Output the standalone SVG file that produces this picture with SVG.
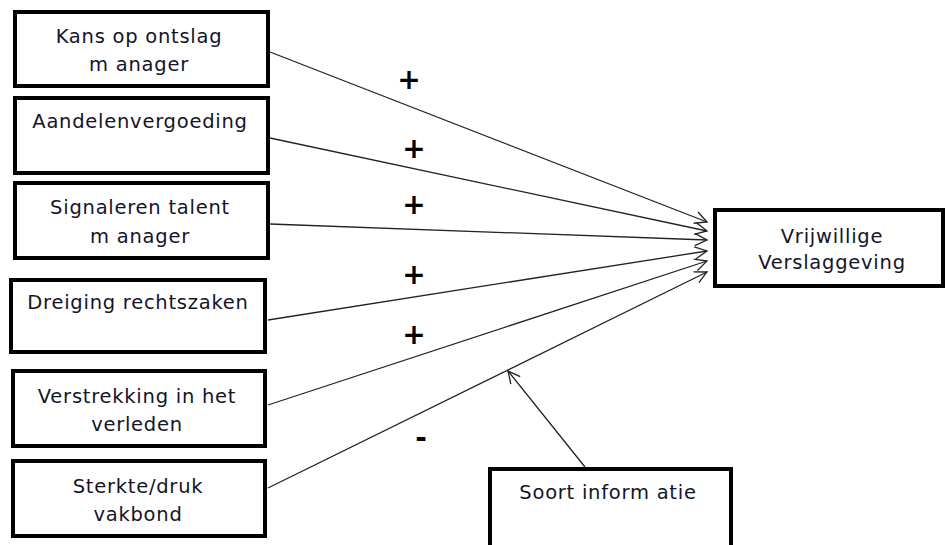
<svg xmlns="http://www.w3.org/2000/svg" width="946" height="545" viewBox="0 0 946 545">
<defs>
<style>
.box{fill:#fff;stroke:#000;stroke-width:4}
.t{font-family:"DejaVu Sans","Liberation Sans",sans-serif;font-size:19.5px;letter-spacing:0.75px;fill:#141428;text-anchor:middle}
.sign{font-family:"DejaVu Sans","Liberation Sans",sans-serif;font-size:28px;font-weight:bold;fill:#000;text-anchor:middle}
.c{stroke:#222;stroke-width:1.3;fill:none}
</style>
<marker id="arr" markerWidth="16" markerHeight="14" refX="13" refY="7" orient="auto" markerUnits="userSpaceOnUse">
<path d="M1,1 L13,7 L1,13" fill="none" stroke="#222" stroke-width="1.3"/>
</marker>
</defs>
<rect width="946" height="545" fill="#fff"/>
<g id="connectors">
<line class="c" x1="270" y1="52" x2="707" y2="222" marker-end="url(#arr)"/>
<line class="c" x1="270" y1="138" x2="707" y2="231" marker-end="url(#arr)"/>
<line class="c" x1="270" y1="224" x2="707" y2="240" marker-end="url(#arr)"/>
<line class="c" x1="268" y1="320" x2="707" y2="251" marker-end="url(#arr)"/>
<line class="c" x1="268" y1="405" x2="707" y2="261" marker-end="url(#arr)"/>
<line class="c" x1="268" y1="488" x2="707" y2="272" marker-end="url(#arr)"/>
<line class="c" x1="585" y1="467" x2="508" y2="371" marker-end="url(#arr)"/>
</g>
<g id="signs">
<text class="sign" x="409" y="89">+</text>
<text class="sign" x="414" y="158">+</text>
<text class="sign" x="414" y="214">+</text>
<text class="sign" x="414" y="284">+</text>
<text class="sign" x="414" y="344">+</text>
<text class="sign" x="421" y="447">-</text>
</g>
<g id="n1">
<rect class="box" x="15" y="12" width="253" height="74"/>
<text class="t" x="139" y="43">Kans op ontslag</text>
<text class="t" x="139" y="71">m anager</text>
</g>
<g id="n2">
<rect class="box" x="15" y="98" width="253" height="75"/>
<text class="t" x="140" y="128">Aandelenvergoeding</text>
</g>
<g id="n3">
<rect class="box" x="15" y="183" width="253" height="75"/>
<text class="t" x="140" y="214">Signaleren talent</text>
<text class="t" x="140" y="243">m anager</text>
</g>
<g id="n4">
<rect class="box" x="11" y="280" width="254" height="72"/>
<text class="t" x="138" y="309">Dreiging rechtszaken</text>
</g>
<g id="n5">
<rect class="box" x="13" y="371" width="252" height="75"/>
<text class="t" x="137" y="403">Verstrekking in het</text>
<text class="t" x="137" y="431">verleden</text>
</g>
<g id="n6">
<rect class="box" x="13" y="461" width="252" height="75"/>
<text class="t" x="138" y="493">Sterkte/druk</text>
<text class="t" x="138" y="521">vakbond</text>
</g>
<g id="n7">
<rect class="box" x="715" y="210" width="228" height="76"/>
<text class="t" x="832" y="243">Vrijwillige</text>
<text class="t" x="832" y="269">Verslaggeving</text>
</g>
<g id="n8">
<rect class="box" x="490" y="469" width="241" height="90"/>
<text class="t" x="608" y="499">Soort inform atie</text>
</g>
</svg>
